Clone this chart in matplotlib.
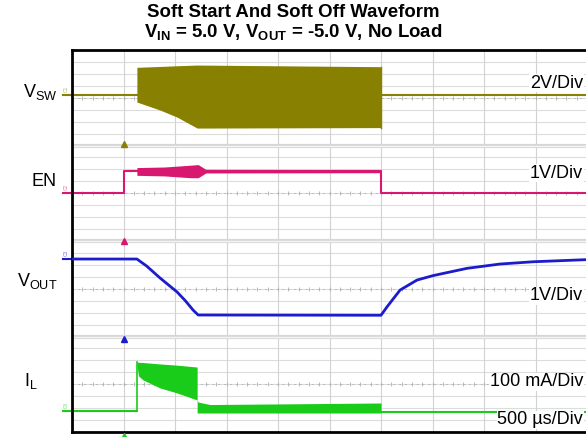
import numpy as np
import matplotlib
matplotlib.use('Agg')
import matplotlib.pyplot as plt

plt.rcParams['font.family'] = ['Liberation Sans', 'DejaVu Sans']
plt.rcParams['mathtext.fontset'] = 'custom'
plt.rcParams['mathtext.rm'] = 'Liberation Sans'
plt.rcParams['mathtext.bf'] = 'Liberation Sans:bold'

# screen units: x in time divisions (0..10), y in grid units (0..32, 8 per channel)
# V_SW switching envelope
t_sw = [1.26, 1.71, 2.04, 2.43, 6.0]
sw_hi = [30.55, 30.62, 30.68, 30.74, 30.6]
sw_lo = [27.64, 26.97, 26.38, 25.46, 25.5]
t_sw_idle = [0.0, 1.26, 6.0, 10.0]
sw_idle = [28.2, 28.2, 28.2, 28.2]

# EN
t_en = [0.0, 1.0, 1.0, 6.0, 6.0, 10.0]
en = [20.0, 20.0, 21.85, 21.85, 20.0, 20.0]
t_en_band = [1.26, 1.8, 2.3, 2.45, 2.6, 6.0]
en_hi = [22.15, 22.2, 22.35, 22.4, 22.0, 21.98]
en_lo = [21.5, 21.45, 21.3, 21.3, 21.7, 21.72]

# V_OUT
t_out = [0.0, 1.26, 1.45, 1.71, 2.04, 2.2, 2.35, 2.45, 6.0, 6.12, 6.37, 6.7, 7.01,
         7.67, 8.31, 8.95, 10.0]
vout = [14.49, 14.49, 13.9, 12.9, 11.73, 11.0, 10.22, 9.8, 9.78, 10.5, 11.89, 12.73, 13.1,
        13.71, 14.07, 14.26, 14.44]

# I_L
t_il_idle = [0.0, 1.26]
il_idle = [1.72, 1.72]
t_il_burst = [1.26, 1.29, 1.38, 1.71, 2.04, 2.43]
il_hi = [5.86, 5.84, 5.82, 5.7, 5.6, 5.44]
il_lo = [5.7, 4.7, 4.36, 3.69, 3.27, 2.68]
t_il_band = [2.43, 2.45, 2.68, 6.0]
il_band_hi = [2.68, 2.51, 2.3, 2.43]
il_band_lo = [1.6, 1.59, 1.59, 1.59]
t_il_end = [6.0, 10.0]
il_end = [1.68, 1.68]

c_sw = '#878000'
c_en = '#d81870'
c_out = '#1c1ccc'
c_il = '#19cc19'

fig = plt.figure(figsize=(5.86, 4.37), dpi=100)
ax = fig.add_axes([72 / 586, 5 / 437, 515 / 586, 382 / 437])
ax.set_xlim(0, 10)
ax.set_ylim(0, 32)
ax.set_xticks([])
ax.set_yticks([])

# scope graticule
for y in np.arange(1, 32):
    if y % 8 == 0:
        continue
    ax.axhline(y, color='#dcdcdc', lw=0.8, zorder=0)
for x in np.arange(1, 10):
    ax.axvline(x, color='#d2d2d2', lw=0.8, zorder=0)
for y in [8, 16, 24]:
    ax.axhline(y, color='#d6d6d6', lw=3, zorder=0)
    ax.axhline(y, color='#f4f4f4', lw=1, zorder=0)
for yc in [4, 12, 20, 28]:
    ax.axhline(yc, color='#b8b8b8', lw=0.7, ls=(0, (2, 4)), zorder=0)
    ax.plot(np.arange(0.2, 10, 0.2), np.full(49, yc), '|', color='#b0b0b0', ms=3, mew=0.6, zorder=0)

# traces
ax.plot(t_sw_idle, sw_idle, color=c_sw, lw=1.5, zorder=2)
ax.fill_between(t_sw, sw_lo, sw_hi, color=c_sw, lw=0, zorder=3)
ax.plot([6.0, 6.0], [25.5, 30.6], color=c_sw, lw=1, zorder=3)

ax.plot(t_en, en, color=c_en, lw=1.5, zorder=2)
ax.fill_between(t_en_band, en_lo, en_hi, color=c_en, lw=0, zorder=3)

ax.plot(t_out, vout, color=c_out, lw=2, zorder=3)

ax.plot(t_il_idle, il_idle, color=c_il, lw=1.5, zorder=2)
ax.plot([1.26, 1.26], [1.72, 5.86], color=c_il, lw=1.2, zorder=3)
ax.fill_between(t_il_burst, il_lo, il_hi, color=c_il, lw=0, zorder=3)
ax.fill_between(t_il_band, il_band_lo, il_band_hi, color=c_il, lw=0, zorder=3)
ax.plot(t_il_end, il_end, color=c_il, lw=1.5, zorder=2)

# trigger markers and channel stubs
for yb, c in [(24.1, c_sw), (16.0, c_en), (7.8, c_out), (-0.3, c_il)]:
    ax.plot(1.0, yb, marker='^', color=c, ms=4, clip_on=False, zorder=4)
for lvl, c, name in [(28.2, c_sw, 'C1'), (20.0, c_en, 'C2'), (14.49, c_out, 'C3'), (1.72, c_il, 'C4')]:
    ax.plot([-0.18, 0], [lvl, lvl], color=c, lw=1.5, clip_on=False)
    ax.text(-0.12, lvl + 0.25, name, color=c, alpha=0.6, fontsize=3.5, rotation=90,
            ha='center', va='bottom', clip_on=False)

for side in ['left', 'top', 'bottom']:
    ax.spines[side].set_linewidth(2)
ax.spines['right'].set_visible(False)

# labels
fig.text(0.5, 1 - 17 / 437, 'Soft Start And Soft Off Waveform', ha='center', va='baseline',
         fontsize=13.4, fontweight='bold')
fig.text(0.5, 1 - 38 / 437, r'V$_{\mathbf{IN}}$ = 5.0 V, V$_{\mathbf{OUT}}$ = -5.0 V, No Load',
         ha='center', va='baseline', fontsize=13.4, fontweight='bold')

fig.text(57 / 586, 1 - 97 / 437, r'V$_{\mathrm{SW}}$', ha='right', va='baseline', fontsize=13)
fig.text(57 / 586, 1 - 186 / 437, 'EN', ha='right', va='baseline', fontsize=13)
fig.text(57 / 586, 1 - 286 / 437, r'V$_{\mathrm{OUT}}$', ha='right', va='baseline', fontsize=13)
fig.text(24 / 586, 1 - 386 / 437, r'I$_{\mathrm{L}}$', ha='left', va='baseline', fontsize=13)

box = dict(facecolor='white', edgecolor='none', pad=0.5)
for txt, yp in [('2V/Div', 83), ('1V/Div', 173), ('1V/Div', 296), ('100 mA/Div', 382), ('500 µs/Div', 420)]:
    fig.text(583 / 586, 1 - yp / 437, txt, ha='right', va='center', fontsize=13, bbox=box)

fig.savefig('out.png', dpi=100)
